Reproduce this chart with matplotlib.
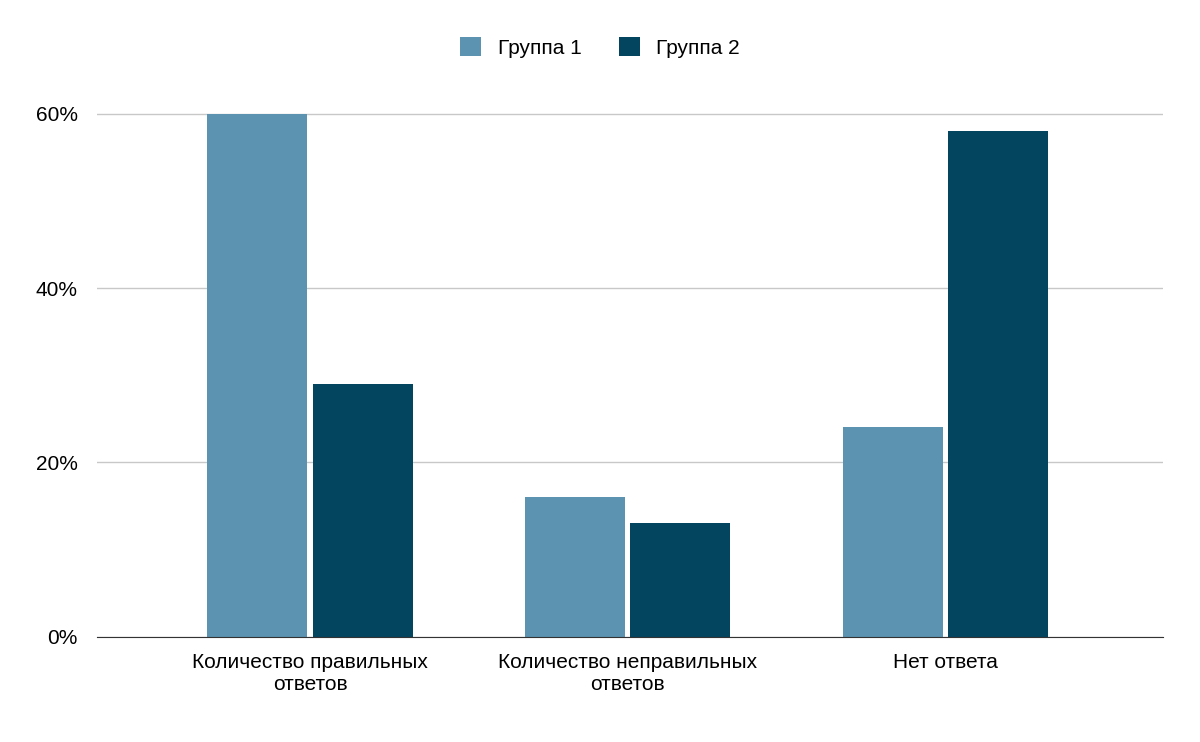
import matplotlib.pyplot as plt
import numpy as np
from matplotlib.ticker import FuncFormatter

plt.rcParams["font.family"] = "Liberation Sans"

categories = ["Количество правильных\nответов", "Количество неправильных\nответов", "Нет ответа"]
group1 = [60, 16, 24]
group2 = [29, 13, 58]

fig = plt.figure(figsize=(12, 7.42), dpi=100)
ax = fig.add_axes([0.081, 0.142, 0.888, 0.74])

x = np.arange(len(categories))
w = 0.315
ax.bar(x - w/2 - 0.008, group1, w, color="#5b93b0", label="Группа 1")
ax.bar(x + w/2 + 0.008, group2, w, color="#03445f", label="Группа 2")

ax.set_xlim(-0.67, 2.685)
ax.set_ylim(0, 63)
ax.set_yticks([0, 20, 40, 60])
ax.yaxis.set_major_formatter(FuncFormatter(lambda v, p: f"{v:.0f}%"))
ax.set_xticks(x)
ax.set_xticklabels(categories, fontsize=15)
ax.tick_params(axis="y", labelsize=15, length=0, pad=14)
ax.tick_params(axis="x", length=0, pad=12)
ax.grid(axis="y", color="#c8c8c8", linewidth=1)
ax.set_axisbelow(True)
for s in ["top", "right", "left"]:
    ax.spines[s].set_visible(False)
ax.spines["bottom"].set_color("#333333")

fig.legend(loc="upper center", bbox_to_anchor=(0.5, 0.975), ncol=2, frameon=False,
           fontsize=15, handlelength=1.0, handleheight=1.0, columnspacing=1.8)

plt.savefig("out.png")
